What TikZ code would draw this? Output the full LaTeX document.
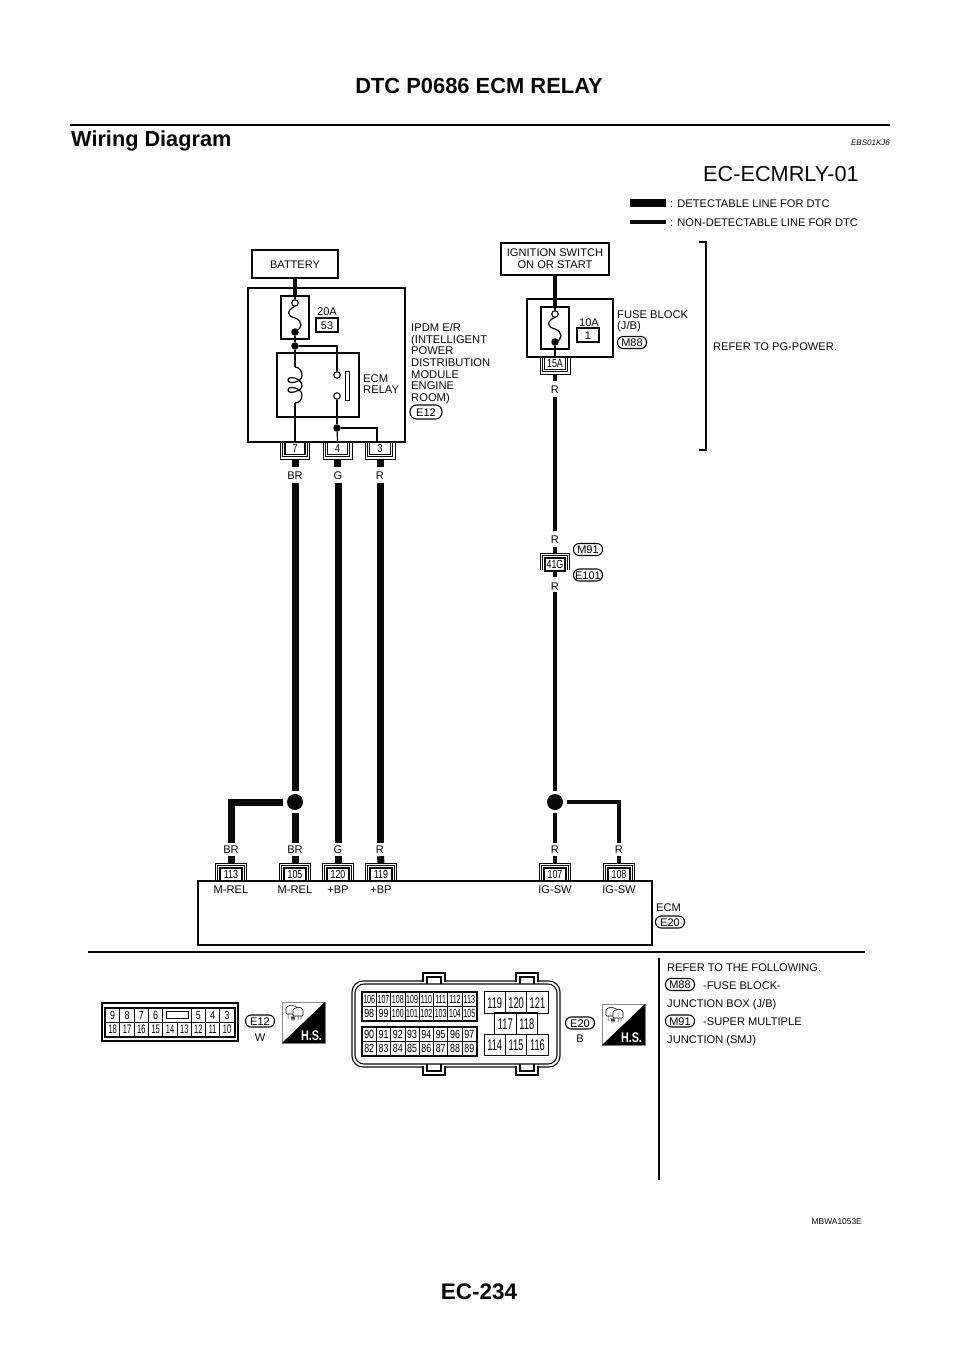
\documentclass[tikz,border=0pt]{standalone}
\usepackage{fontspec}
\setmainfont{Liberation Sans}
\newfontfamily\condf[FakeStretch=0.75]{Liberation Sans}
\newfontfamily\condn[FakeStretch=0.6]{Liberation Sans}
\newfontfamily\condb[FakeStretch=0.77]{Liberation Sans Bold}
\usetikzlibrary{calc}
\definecolor{ink}{gray}{0.03}
\tikzset{
  tx/.style={inner sep=0,text=ink,text height=8pt,text depth=0pt,font=\fontsize{11.1}{12}\selectfont},
  txb/.style={inner sep=0,text=ink,align=left,font=\fontsize{11.2}{11.7}\selectfont},
  boxw/.style={draw=ink,line width=1.2pt,inner sep=0},
  nd/.style={draw=ink,line width=4pt,line join=miter},
  det/.style={draw=ink,line width=7pt,line join=miter},
  fine/.style={draw=ink,line width=1.2pt},
  brk/.style={draw=ink,line width=0.8pt,line join=miter},
  pinb/.style={draw=ink,line width=1.1pt,inner sep=0,minimum height=13pt,text height=8pt,text depth=0pt,font=\condf\fontsize{11.8}{12}\selectfont},
  pill/.style={draw=ink,line width=1.1pt,rounded corners=5.7pt,minimum width=29pt,minimum height=12pt,inner sep=0,text height=8pt,text depth=0pt,font=\fontsize{11}{12}\selectfont},
  opn/.style={circle,draw=ink,fill=white,line width=1.1pt,minimum size=6.5pt,inner sep=0},
  sdot/.style={circle,fill=ink,minimum size=7.5pt,inner sep=0},
  bigdot/.style={circle,fill=ink,minimum size=16pt,inner sep=0},
  smc/.style={draw=ink,line width=0.8pt,minimum width=14.3pt,minimum height=14.5pt,inner sep=0,text height=8.4pt,text depth=0pt,font=\condf\fontsize{11.8}{12}\selectfont},
  smn/.style={smc,font=\condn\fontsize{11.8}{12}\selectfont},
  lgc/.style={draw=ink,line width=1pt,inner sep=0,minimum width=21.4pt,minimum height=21.3pt,text height=11.2pt,text depth=0pt,font=\condn\fontsize{15.5}{16}\selectfont},
  e12c/.style={draw=ink,line width=0.8pt,minimum width=14.3pt,minimum height=14.3pt,inner sep=0,text height=8.4pt,text depth=0pt,font=\condf\fontsize{11.8}{12}\selectfont},
}
% pin hanging below a box: name, centre x, top y, text, half width
\newcommand{\wpinD}[5]{%
  \node[pinb,minimum width={2*#5}] (#1) at (#2,{#3+6}) {#4};
  \draw[brk] ({#2-#5-2.2},{#3+1}) -- ({#2-#5-2.2},{#3+14.5}) -- ({#2+#5+2.2},{#3+14.5}) -- ({#2+#5+2.2},{#3+1});
  \draw[brk] ({#2-#5-4.5},{#3+1}) -- ({#2-#5-4.5},{#3+17}) -- ({#2+#5+4.5},{#3+17}) -- ({#2+#5+4.5},{#3+1});
  \coordinate (#1s) at (#2,{#3+17});
}
% pin standing on a box: name, centre x, bottom y, text, half width
\newcommand{\wpinU}[5]{%
  \node[pinb,minimum width={2*#5}] (#1) at (#2,{#3-6.5}) {#4};
  \draw[brk] ({#2-#5-2.2},{#3-1}) -- ({#2-#5-2.2},{#3-15.5}) -- ({#2+#5+2.2},{#3-15.5}) -- ({#2+#5+2.2},{#3-1});
  \draw[brk] ({#2-#5-4.5},{#3-1}) -- ({#2-#5-4.5},{#3-18}) -- ({#2+#5+4.5},{#3-18}) -- ({#2+#5+4.5},{#3-1});
  \coordinate (#1s) at (#2,{#3-18});
}
% fuse symbol
\newcommand{\wfuse}[3]{%
  \draw[fine] (#3,{#1+3}) .. controls ({#3-9},{#1+8}) and ({#3-8},{#1+13}) .. (#3,{#1+15})
     .. controls ({#3+8},{#1+18}) and ({#3+8},{#1+26}) .. (#3,{#1+28});
}
\newcommand{\whsicon}[3]{%
  \begin{scope}[shift={(#2,#3)}]
    \draw[draw=black!45,line width=0.7pt,fill=white] (0,0) rectangle (43,41);
    \fill[black] (43,0) -- (43,41) -- (0,41) -- cycle;
    \draw[draw=ink,line width=0.6pt,rounded corners=1pt,fill=white] (4,5) -- (9,3) -- (15,5) -- (15,12) -- (4,12) -- cycle;
    \draw[draw=ink,line width=0.6pt,rounded corners=1pt,fill=white] (11,7) -- (17,5) -- (21,7) -- (21,14) -- (11,14) -- cycle;
    \draw[draw=ink,line width=0.5pt] (6,12) -- (6,17) (9,14) -- (10,18) -- (11,14) -- (12,18) -- (13,14) (16,14) -- (16,18) (19,14) -- (19,17);
    \node[inner sep=0,text=white,text height=10pt,text depth=0pt,font=\condb\fontsize{14}{14}\selectfont] (#1) at (29.5,33) {H.S.};
  \end{scope}
}
\begin{document}
\begin{tikzpicture}[x=1pt,y=-1pt]
\useasboundingbox (0,0) rectangle (960,1358);
\fill[white] (0,0) rectangle (960,1358);

% page furniture
\node[inner sep=0,text=ink,font=\bfseries\fontsize{21.9}{23}\selectfont,text height=15.7pt,text depth=0pt] (ttl) at (479,86) {DTC P0686 ECM RELAY};
\coordinate (ruleL) at (70,125);
\coordinate (ruleR) at (890,125);
\draw[draw=ink,line width=2.6pt] (ruleL) -- (ruleR);
\node[inner sep=0,anchor=west,text=ink,font=\bfseries\fontsize{21.7}{23}\selectfont,text height=15.5pt,text depth=0pt] (wd) at (71,139) {Wiring Diagram};
\node[inner sep=0,anchor=east,text=ink,font=\itshape\fontsize{8}{9}\selectfont,text height=5.7pt,text depth=0pt] (ebs) at (890,143) {EBS01KJ6};
\node[inner sep=0,text=ink,font=\bfseries\fontsize{22.5}{24}\selectfont,text height=16pt,text depth=0pt] (pg) at (479,1291) {EC-234};
\node[inner sep=0,anchor=east,text=ink,font=\fontsize{8.4}{9}\selectfont,text height=6pt,text depth=0pt] (mb) at (862,1221) {MBWA1053E};
\node[inner sep=0,anchor=east,text=ink,font=\fontsize{21.7}{23}\selectfont,text height=15.5pt,text depth=0pt] (ecid) at (859,174) {EC-ECMRLY-01};

% legend
\coordinate (la1) at (630,203); \coordinate (la2) at (666,203);
\coordinate (lb1) at (630,221.5); \coordinate (lb2) at (666,221.5);
\draw[draw=ink,line width=8pt] (la1) -- (la2);
\draw[nd] (lb1) -- (lb2);
\node[tx,anchor=west] (lt1) at (670,203) {: DETECTABLE LINE FOR DTC};
\node[tx,anchor=west] (lt2) at (670,222) {: NON-DETECTABLE LINE FOR DTC};

% battery / IPDM
\node[boxw,minimum width=86pt,minimum height=28pt,text height=8pt,text depth=0pt,font=\fontsize{11}{12}\selectfont,text=ink] (bat) at (295,264) {BATTERY};
\draw[boxw] (248,288) rectangle (405,442);
\node[boxw,minimum width=28pt,minimum height=43pt] (fu1) at (295,317.5) {};
\node[boxw,minimum width=82pt,minimum height=64pt] (rel) at (318,385) {};
\node[opn] (fo1) at (295,303) {};
\node[sdot] (fd1) at (295,332) {};
\wfuse{303}{332}{295}
\node[tx] (a20) at (327,311) {20A};
\node[boxw,minimum width=22pt,minimum height=14pt,text height=8pt,text depth=0pt,font=\fontsize{11}{12}\selectfont,text=ink] (f53) at (327,325) {53};
\node[sdot] (j1) at (295,346) {};
\coordinate (co1) at (295,367);
\coordinate (co2) at (295,403);
\node[opn] (o1) at (337,375) {};
\node[opn] (o2) at (337,396) {};
\node[sdot] (j2) at (337,428) {};
\draw[fill=white,draw=ink,line width=1pt] (345,371) rectangle (349,400);
\coordinate (p3in) at (377,442);
\node[txb,anchor=north west] (ecmrel) at (363,374) {ECM\\RELAY};
\node[txb,anchor=north west] (ipdm) at (411,323) {IPDM E/R\\(INTELLIGENT\\POWER\\DISTRIBUTION\\MODULE\\ENGINE\\ROOM)};
\node[pill,minimum width=32pt,minimum height=14pt,rounded corners=6.5pt] (e12a) at (426,412) {E12};
\wpinD{p7}{295}{442}{7}{10}
\wpinD{p4}{337.5}{442}{4}{10}
\wpinD{p3}{380}{442}{3}{10.5}

\draw[draw=ink,line width=3.6pt] (bat) -- (fu1);
\draw[fine] (fu1.north) -- (fo1);
\draw[fine] (fd1) -- (j1);
\draw[fine] (j1) -- (co1);
\draw[fine] (295,367) .. controls (300,367) and (302,372) .. (302,376) .. controls (302,382) and (288,385) .. (288,380) .. controls (288,375) and (302,378) .. (302,386) .. controls (302,391) and (288,395) .. (288,390) .. controls (288,385) and (302,388) .. (302,395) .. controls (302,400) and (299,403) .. (295,403);
\draw[fine] (co2) -- (p7.north);
\draw[fine] (j1) -| (o1);
\draw[fine] (o2) -- (j2);
\draw[fine] (j2) -- (p4.north);
\draw[fine] (j2) -| (p3in);

% IPDM wires
\node[tx] (tBR1) at (295,475) {BR};
\node[tx] (tG1) at (338,475) {G};
\node[tx] (tR1) at (380,475) {R};
\node[bigdot] (dot1) at (295,802) {};
\node[tx] (tBR3) at (231,849) {BR};
\node[tx] (tBR2) at (295,849) {BR};
\node[tx] (tG2) at (338,849) {G};
\node[tx] (tR2) at (380,849) {R};
\draw[det,shorten >=4pt] (p7s) -- (tBR1);
\draw[det,shorten >=4pt] (p4s) -- (p4s|-tG1.north);
\draw[det,shorten >=4pt] (p3s) -- (tR1);
\draw[det,shorten <=4pt,shorten >=3pt] (tBR1) -- (dot1);
\draw[det,shorten <=4pt,shorten >=2pt] (tG1) -- (tG2);
\draw[det,shorten <=4pt,shorten >=2pt] (tR1) -- (tR2);
\draw[det,shorten <=3pt,shorten >=2pt] (dot1) -- (tBR2);
\draw[det,shorten <=4pt,shorten >=2pt] (dot1) -| (tBR3);

% ignition / fuse block
\node[boxw,minimum width=108pt,minimum height=32pt,align=center,text=ink,font=\fontsize{11.1}{12}\selectfont] (ign) at (555,259) {IGNITION SWITCH\\ON OR START};
\node[boxw,minimum width=86pt,minimum height=58pt] (fb) at (570,328) {};
\node[boxw,minimum width=28pt,minimum height=42pt] (fu2) at (555,328) {};
\node[opn] (fo2) at (555,314) {};
\node[sdot] (fd2) at (555,342) {};
\wfuse{314}{342}{555}
\node[tx] (a10) at (589,322) {10A};
\node[boxw,minimum width=22pt,minimum height=14pt,text height=8pt,text depth=0pt,font=\fontsize{11}{12}\selectfont,text=ink] (f1b) at (588,335) {1};
\node[txb,anchor=north west] (fbl) at (617,310) {FUSE BLOCK\\(J/B)};
\node[pill] (m88a) at (632,342.5) {M88};
\wpinD{p15}{555}{357}{15A}{10.5}
\node[tx] (tR3) at (555,389) {R};
\node[tx] (tR4) at (555,539) {R};
\node[tx] (tR5) at (555,586) {R};
\node[pill] (m91a) at (588,549.5) {M91};
\node[pill] (e101) at (588,575) {E101};
\wpinU{p41}{555}{571}{41G}{10}
\node[bigdot] (dot2) at (555,802) {};
\node[tx] (tR6) at (555,849) {R};
\node[tx] (tR7) at (619,849) {R};
\draw[nd] (ign) -- (fu2.north);
\draw[fine] (fu2.north) -- (fo2);
\draw[fine] (fd2) -- (p15.north);
\draw[nd,shorten >=4pt] (p15s) -- (tR3);
\draw[nd,shorten <=4pt,shorten >=4pt] (tR3) -- (tR4);
\draw[nd,shorten <=4pt] (tR4) -- (p41s);
\draw[nd,shorten >=5pt] (p41) -- (tR5);
\draw[nd,shorten <=2pt,shorten >=3pt] (tR5) -- (dot2);
\draw[nd,shorten <=3pt,shorten >=2pt] (dot2) -- (tR6);
\draw[nd,shorten <=4pt,shorten >=2pt] (dot2) -| (tR7);

% refer bracket
\coordinate (bk1) at (699,242); \coordinate (bk2) at (706,242);
\coordinate (bk3) at (706,450); \coordinate (bk4) at (699,450);
\draw[draw=ink,line width=1.3pt,line join=miter] (bk1) -- (bk2) -- (bk3) -- (bk4);
\node[tx,anchor=west] (pgp) at (713,346) {REFER TO PG-POWER.};

% ECM
\node[boxw,minimum width=454pt,minimum height=64pt] (ecm) at (425,913) {};
\wpinU{p113}{231}{881}{113}{11}
\wpinU{p105}{295}{881}{105}{11}
\wpinU{p120}{338}{881}{120}{11}
\wpinU{p119}{381}{881}{119}{11}
\wpinU{p107}{555}{881}{107}{11}
\wpinU{p108}{619}{881}{108}{11}
\draw[det,shorten <=3pt] (tBR3) -- (p113s);
\draw[det,shorten <=3pt] (tBR2) -- (p105s);
\draw[det,shorten <=3pt] (tG2) -- (p120s);
\draw[det,shorten <=3pt] (tR2) -- (p119s);
\draw[nd,shorten <=3pt] (tR6) -- (p107s);
\draw[nd,shorten <=3pt] (tR7) -- (p108s);
\node[tx] (mr1) at (231,889) {M-REL};
\node[tx] (mr2) at (295,889) {M-REL};
\node[tx] (bp1) at (338,889) {+BP};
\node[tx] (bp2) at (381,889) {+BP};
\node[tx] (ig1) at (555,889) {IG-SW};
\node[tx] (ig2) at (619,889) {IG-SW};
\node[tx,anchor=west] (ecml) at (656,907) {ECM};
\node[pill] (e20a) at (670,922) {E20};

% separators
\coordinate (sp1) at (88,952); \coordinate (sp2) at (865,952);
\draw[draw=ink,line width=1.5pt] (sp1) -- (sp2);
\coordinate (vl1) at (659,958); \coordinate (vl2) at (659,1180);
\draw[draw=ink,line width=1.8pt] (vl1) -- (vl2);
\node[tx,anchor=west] (rf1) at (667,967) {REFER TO THE FOLLOWING.};
\node[pill] (m88b) at (680,984.5) {M88};
\node[tx,anchor=west] (rf2) at (703,985) {-FUSE BLOCK-};
\node[tx,anchor=west] (rf3) at (667,1003) {JUNCTION BOX (J/B)};
\node[pill] (m91b) at (680,1021) {M91};
\node[tx,anchor=west] (rf4) at (703,1021) {-SUPER MULTIPLE};
\node[tx,anchor=west] (rf5) at (667,1039) {JUNCTION (SMJ)};

% E12 connector
\draw[draw=ink,line width=1.2pt] (102,1003) rectangle (238,1041);
\draw[draw=ink,line width=1.2pt] (105,1008) rectangle (235,1037);
\foreach \t/\x in {9/112.7,8/127,7/141.3,6/155.7,5/198.3,4/212.7,3/227}
  \node[e12c] (et\t) at (\x,1015) {\t};
\node[draw=ink,line width=0.8pt,minimum width=28.6pt,minimum height=14.3pt,inner sep=0] (etw) at (177,1015) {};
\node[draw=ink,line width=1pt,minimum width=22pt,minimum height=7pt,inner sep=0] (ets) at (177,1015) {};
\foreach \t/\x in {18/112.7,17/127,16/141.3,15/155.7,14/170,13/184.3,12/198.3,11/212.7,10/227}
  \node[e12c,font=\condn\fontsize{12.4}{13}\selectfont] (eb\t) at (\x,1029.5) {\t};
\node[pill] (e12b) at (260,1021) {E12};
\node[tx] (lw) at (260,1037) {W};
\whsicon{hs1}{282}{1002}

% E20 connector
\draw[draw=ink,line width=1.1pt,rounded corners=11pt] (352,981) rectangle (560,1067);
\draw[draw=ink,line width=1.1pt,rounded corners=9pt] (355,984) rectangle (557,1064);
\foreach \x in {423,516} {
  \filldraw[draw=ink,fill=white,line width=1.1pt] (\x,982) -- (\x,973) -- ({\x+22},973) -- ({\x+22},982);
  \draw[draw=ink,line width=1.1pt] ({\x+4},984) -- ({\x+4},977) -- ({\x+18},977) -- ({\x+18},984);
  \filldraw[draw=ink,fill=white,line width=1.1pt] (\x,1066) -- (\x,1075) -- ({\x+22},1075) -- ({\x+22},1066);
  \draw[draw=ink,line width=1.1pt] ({\x+4},1064) -- ({\x+4},1071) -- ({\x+18},1071) -- ({\x+18},1064);
}
\draw[draw=ink,line width=1.8pt] (362,992) rectangle (477,1021);
\draw[draw=ink,line width=1.8pt] (362,1027) rectangle (477,1056);
\foreach \t [count=\i from 0] in {106,107,108,109,110,111,112,113}
  \node[smn] (c\t) at ({369.2+\i*14.3},999.2) {\t};
\foreach \t [count=\i from 0] in {98,99}
  \node[smc] (c\t) at ({369.2+\i*14.3},1013.7) {\t};
\foreach \t [count=\i from 2] in {100,101,102,103,104,105}
  \node[smn] (c\t) at ({369.2+\i*14.3},1013.7) {\t};
\foreach \t [count=\i from 0] in {90,91,92,93,94,95,96,97}
  \node[smc] (c\t) at ({369.2+\i*14.3},1034.2) {\t};
\foreach \t [count=\i from 0] in {82,83,84,85,86,87,88,89}
  \node[smc] (c\t) at ({369.2+\i*14.3},1048.7) {\t};
\foreach \t [count=\i from 0] in {119,120,121}
  \node[lgc] (c\t) at ({494.7+\i*21.4},1002.5) {\t};
\foreach \t [count=\i from 0] in {117,118}
  \node[lgc] (c\t) at ({505.4+\i*21.4},1023.5) {\t};
\foreach \t [count=\i from 0] in {114,115,116}
  \node[lgc] (c\t) at ({494.7+\i*21.4},1045) {\t};
\node[pill] (e20b) at (580,1023) {E20};
\node[tx] (lb) at (580,1038) {B};
\whsicon{hs2}{602}{1004}
\end{tikzpicture}
\end{document}
